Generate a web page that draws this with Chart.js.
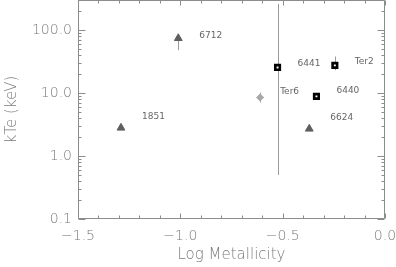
<!DOCTYPE html>
<html>
<head>
<meta charset="utf-8">
<script src="https://cdn.jsdelivr.net/npm/chart.js@4"></script>
<style>
  html, body { margin: 0; padding: 0; background: #fff; }
  #wrap { width: 396px; height: 267px; }
</style>
</head>
<body>
<div id="wrap"><canvas id="kteChart" width="396" height="267"></canvas></div>
<script>
// globular clusters: log metallicity vs kTe
const clusters = ['1851', '6712', 'Ter6', '6441', 'Ter2', '6440', '6624'];
const markers  = ['tri', 'tri', 'dia', 'sq', 'sq', 'sq', 'tri'];
const logZ     = [-1.29, -1.01, -0.61, -0.525, -0.245, -0.335, -0.37];
const kTe      = [2.8, 74, 8.5, 25.5, 27.5, 8.85, 2.7];
const kTeLow   = [null, 48, 7.1, 0.5, 23, null, null];
const kTeHigh  = [null, null, 10.1, 260, 38, null, null];
const logZErr  = [0, 0, 0.017, 0, 0, 0, 0];
const yTicks   = [0.1, 1, 10, 100];

// label placement (px, relative to the marker)
const labelDx = [21, 21, 20, 20, 20, 20, 21];
const labelDy = [-11, -3, -6, -4, -4, -6, -11];

const axisColor = '#8c8c8c';
const textColor = '#7a7a7a';
const fontFamily = "'DejaVu Sans', sans-serif";

function pts(kind) {
    const out = [];
    clusters.forEach((c, i) => {
        if (markers[i] === kind) out.push({ x: logZ[i], y: kTe[i] });
    });
    return out;
}

const frame = {
    id: 'frame',
    beforeDatasetsDraw(chart) {
        const ctx = chart.ctx, xs = chart.scales.x, ys = chart.scales.y;
        ctx.save();
        ctx.strokeStyle = '#9a9a9a';
        ctx.lineWidth = 1;
        clusters.forEach((c, i) => {
            const px = Math.round(xs.getPixelForValue(logZ[i])) + 0.5;
            const py = ys.getPixelForValue(kTe[i]);
            ctx.beginPath();
            if (kTeLow[i] !== null) {
                ctx.moveTo(px, py);
                ctx.lineTo(px, ys.getPixelForValue(kTeLow[i]));
            }
            if (kTeHigh[i] !== null) {
                ctx.moveTo(px, py);
                ctx.lineTo(px, ys.getPixelForValue(kTeHigh[i]));
            }
            if (logZErr[i]) {
                const r = Math.round(py) + 0.5;
                ctx.moveTo(xs.getPixelForValue(logZ[i] - logZErr[i]), r);
                ctx.lineTo(xs.getPixelForValue(logZ[i] + logZErr[i]), r);
            }
            ctx.stroke();
        });
        ctx.restore();
    },
    afterDraw(chart) {
        const ctx = chart.ctx, a = chart.chartArea;
        const xs = chart.scales.x, ys = chart.scales.y;
        const L = Math.round(a.left) + 0.5, R = Math.round(a.right) - 0.5;
        const T = Math.round(a.top) + 0.5, B = Math.round(a.bottom) - 0.5;
        ctx.save();
        ctx.strokeStyle = axisColor;
        ctx.lineWidth = 1;
        ctx.beginPath();
        ctx.rect(L, T, R - L, B - T);
        // x ticks, every 0.1, major at 0.5
        for (let k = -15; k <= 0; k++) {
            const v = k / 10;
            const px = Math.round(xs.getPixelForValue(v)) + 0.5;
            const len = (k % 5 === 0) ? 5 : 3;
            ctx.moveTo(px, B); ctx.lineTo(px, B - len);
            ctx.moveTo(px, T); ctx.lineTo(px, T + len);
        }
        // y ticks, log decades
        for (let d = -1; d <= 2; d++) {
            for (let m = 1; m <= 9; m++) {
                const v = m * Math.pow(10, d);
                if (v > ys.max) break;
                const py = Math.round(ys.getPixelForValue(v)) + 0.5;
                const len = (m === 1) ? 7 : 3;
                ctx.moveTo(L, py); ctx.lineTo(L + len, py);
                ctx.moveTo(R, py); ctx.lineTo(R - len, py);
            }
        }
        ctx.stroke();

        // cluster names
        ctx.fillStyle = '#666';
        ctx.font = '9px ' + fontFamily;
        ctx.textAlign = 'left';
        ctx.textBaseline = 'middle';
        clusters.forEach((c, i) => {
            const px = xs.getPixelForValue(logZ[i]);
            const py = ys.getPixelForValue(kTe[i]);
            ctx.fillText(c, px + labelDx[i], py + labelDy[i]);
        });
        ctx.restore();
    }
};

const ctx = document.getElementById('kteChart').getContext('2d');
const chart = new Chart(ctx, {
    type: 'scatter',
    data: {
        datasets: [
            {
                label: 'tri',
                data: pts('tri'),
                pointStyle: 'triangle',
                pointRadius: 4.5,
                backgroundColor: '#5e5e5e',
                borderColor: '#5e5e5e',
                borderWidth: 1
            },
            {
                label: 'dia',
                data: pts('dia'),
                pointStyle: 'rectRot',
                pointRadius: 3.5,
                backgroundColor: '#a8a8a8',
                borderColor: '#a8a8a8',
                borderWidth: 1
            },
            {
                label: 'sq',
                data: pts('sq'),
                pointStyle: 'rect',
                pointRadius: 3.2,
                backgroundColor: '#ffffff',
                borderColor: '#000000',
                borderWidth: 2.6
            }
        ]
    },
    options: {
        responsive: false,
        animation: false,
        layout: { autoPadding: false, padding: { left: 0, right: 11, top: 0, bottom: 0 } },
        plugins: {
            legend: { display: false },
            tooltip: { enabled: false }
        },
        scales: {
            x: {
                type: 'linear',
                min: -1.5,
                max: 0,
                grid: { display: false, drawTicks: false },
                border: { display: false },
                ticks: {
                    stepSize: 0.5,
                    padding: 9,
                    color: textColor,
                    font: { family: fontFamily, size: 14, weight: 200 },
                    callback: v => (v < 0 ? '\u2212' : '') + Math.abs(v).toFixed(1)
                },
                title: {
                    display: true,
                    text: 'Log Metallicity',
                    color: textColor,
                    font: { family: fontFamily, size: 15, weight: 200 },
                    padding: { top: 0, bottom: 3 }
                },
                afterFit: s => {
                    s.height = 48;
                    s.paddingLeft = 0;
                    s.paddingRight = 0;
                }
            },
            y: {
                type: 'logarithmic',
                min: 0.1,
                max: 300,
                grid: { display: false, drawTicks: false },
                border: { display: false },
                afterBuildTicks: s => { s.ticks = yTicks.map(v => ({ value: v })); },
                ticks: {
                    padding: 6,
                    color: textColor,
                    font: { family: fontFamily, size: 14, weight: 200 },
                    callback: v => Number(v).toFixed(1)
                },
                title: {
                    display: true,
                    text: 'kTe (keV)',
                    color: textColor,
                    font: { family: fontFamily, size: 15, weight: 200 },
                    padding: { top: 3, bottom: 0 }
                },
                afterFit: s => {
                    s.width = 78;
                    s.paddingTop = 0;
                    s.paddingBottom = 0;
                }
            }
        }
    },
    plugins: [frame]
});
</script>
</body>
</html>
